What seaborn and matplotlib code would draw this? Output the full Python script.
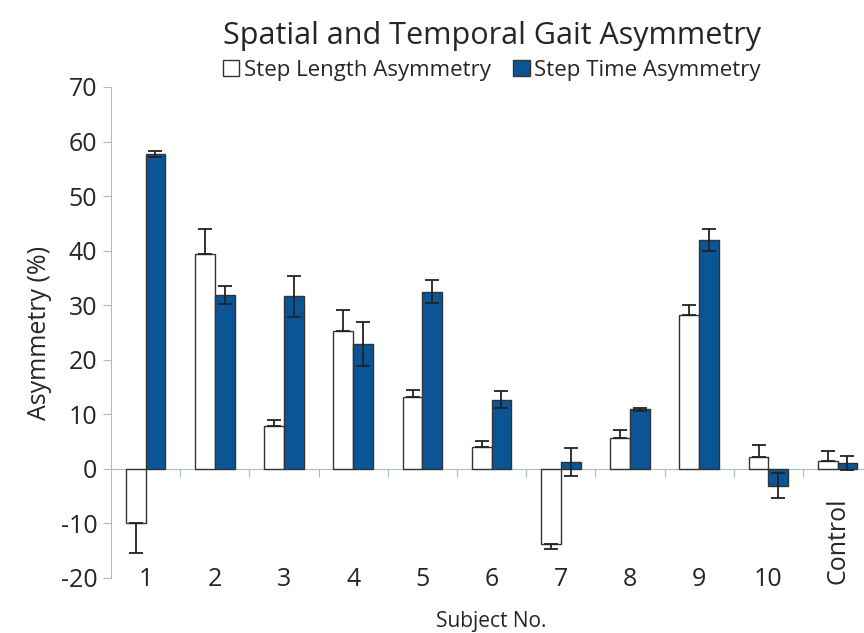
import pandas as pd
import numpy as np
import matplotlib
matplotlib.use("Agg")
import matplotlib.pyplot as plt
import matplotlib.transforms as mtransforms
import seaborn as sns

subjects = ["1", "2", "3", "4", "5", "6", "7", "8", "9", "10", "Control"]
step_length = [-10.0, 39.3, 7.8, 25.2, 13.1, 4.1, -13.7, 5.6, 28.2, 2.2, 1.5]
step_length_err = [5.4, 4.7, 1.2, 4.0, 1.4, 1.1, 0.9, 1.6, 1.9, 2.1, 1.7]
step_time = [57.7, 31.9, 31.6, 22.9, 32.5, 12.7, 1.3, 10.9, 41.9, -3.1, 1.1]
step_time_err = [0.6, 1.7, 3.8, 4.1, 2.1, 1.6, 2.6, 0.3, 2.0, 2.3, 1.3]

series = ["Step Length Asymmetry", "Step Time Asymmetry"]
colors = ["white", "#0a5596"]
axis_color = "#a9bccf"

df = pd.DataFrame({
    "subject": subjects * 2,
    "value": step_length + step_time,
    "series": [series[0]] * len(subjects) + [series[1]] * len(subjects),
})

sns.set_style("white")
plt.rcParams["font.family"] = ["Open Sans", "DejaVu Sans"]
plt.rcParams["axes.unicode_minus"] = False

fig = plt.figure(figsize=(8.64, 6.33), dpi=100)
ax = fig.add_axes([0.1285, 0.0869, 0.881, 0.7757])

sns.barplot(data=df, x="subject", y="value", hue="series", palette=colors,
            saturation=1, edgecolor="#333333", linewidth=1.0, width=0.57,
            errorbar=None, legend=False, ax=ax)

# error bars: white bars one-sided (away from zero), blue bars both ways
for k, (bars, errs) in enumerate(zip(ax.containers, [step_length_err, step_time_err])):
    xs = [b.get_x() + b.get_width() / 2 for b in bars]
    vals = step_length if k == 0 else step_time
    if k == 0:
        lo = [e if v < 0 else 0 for v, e in zip(vals, errs)]
        hi = [e if v >= 0 else 0 for v, e in zip(vals, errs)]
    else:
        lo, hi = errs, errs
    ax.errorbar(xs, vals, yerr=[lo, hi], fmt="none", ecolor="#222222",
                elinewidth=1.3, capsize=5, capthick=1.3, zorder=5)

ax.set_xlim(-0.5, 10.5)
ax.set_ylim(-20, 70)
ax.set_yticks(range(-20, 71, 10))
ax.set_ylabel("Asymmetry (%)", fontsize=18, labelpad=6)
ax.set_xlabel("Subject No.", fontsize=15, labelpad=14)
for s in ["top", "right", "bottom"]:
    ax.spines[s].set_visible(False)
ax.spines["left"].set_color(axis_color)
ax.tick_params(axis="y", which="major", direction="out", length=6, color=axis_color,
               labelsize=18, left=True, pad=4)
ax.tick_params(axis="x", which="major", length=0, labelsize=18, pad=-8)

lbls = ax.get_xticklabels()
lbls[-1].set_rotation(90)
lbls[-1].set_va("center")
lbls[-1].set_transform(lbls[-1].get_transform() +
                       mtransforms.ScaledTranslation(0, 0.26, fig.dpi_scale_trans))
for t in lbls:
    t.set_x(t.get_position()[0] + 0.1)

# zero line with category boundary ticks
sec = ax.secondary_xaxis(20 / 90)
sec.set_xticks(np.arange(0.5, 10.5, 1.0))
sec.set_xticklabels([])
sec.tick_params(direction="out", length=6, color=axis_color)
sec.spines["bottom"].set_color(axis_color)

handles = [plt.Rectangle((0, 0), 1, 1, facecolor=c, edgecolor="#333333", linewidth=1.0)
           for c in colors]
ax.legend(handles, series, loc="lower center", bbox_to_anchor=(0.5, 0.995), ncol=2,
          frameon=False, fontsize=16, handlelength=0.75, handleheight=0.75,
          handletextpad=0.2, columnspacing=1.0, borderaxespad=0)

ax.set_title("Spatial and Temporal Gait Asymmetry", fontsize=22, pad=31)

fig.savefig("out.png", dpi=100)
